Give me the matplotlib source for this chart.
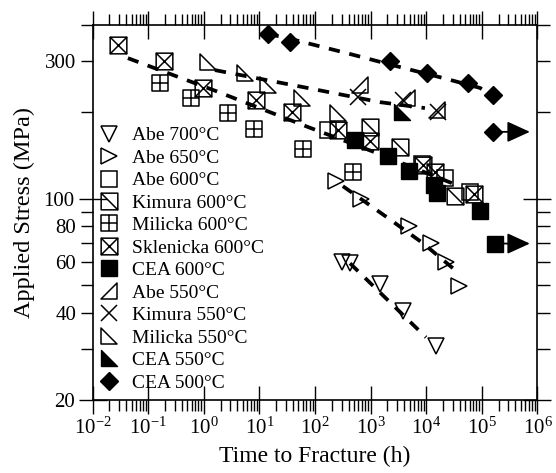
import numpy as np
import matplotlib
matplotlib.use('Agg')
import matplotlib.pyplot as plt
from matplotlib.path import Path
from matplotlib.ticker import FixedLocator, NullFormatter, FuncFormatter, LogLocator

plt.rcParams['font.family'] = ['Liberation Serif', 'DejaVu Serif']
plt.rcParams['mathtext.fontset'] = 'stix'

# --- data: time to fracture (h) and applied stress (MPa) ---
abe700_t = [305, 425, 1470, 3810, 14900]
abe700_s = [60.1, 59.6, 50.4, 40.6, 30.7]

abe650_t = [238, 670, 4890, 12200, 22600, 38700]
abe650_s = [114.8, 99.4, 80.1, 69.9, 60.1, 49.8]

abe600_t = [171, 8260, 21700, 61100]
abe600_s = [173, 132, 117.6, 105.2]

kimura600_t = [971, 3370, 32800]
kimura600_s = [177, 150.7, 101.9]

milicka600_t = [0.162, 0.586, 2.71, 7.96, 60.5, 481]
milicka600_s = [252, 224, 197.5, 175, 148, 124]

sklenicka600_t = [0.0285, 0.191, 0.96, 8.65, 38.5, 258, 971, 8710, 14350, 72100]
sklenicka600_s = [341, 300, 242, 220, 199, 173, 158, 130.6, 123.5, 104]

cea600_t = [522, 2070, 4950, 13700, 15500, 92000, 172000]
cea600_s = [159.5, 141, 124.7, 111.2, 104.3, 90.2, 69.8]

abe550_t = [643, 4500, 15560]
abe550_s = [248, 223, 203]

kimura550_t = [592, 3810, 16200]
kimura550_s = [225, 220, 199.5]

milicka550_t = [1.19, 5.48, 14.2, 58, 258]
milicka550_s = [298, 273, 248, 223, 198]

cea550_t = [3610]
cea550_s = [200]

cea500_t = [14.2, 36.1, 2220, 10200, 56900, 160000, 160000]
cea500_s = [372, 350, 301, 272, 252, 229, 170.4]

# run-out (unbroken) specimens, arrows to the right
runout_t = [160000, 172000]
runout_s = [170.4, 69.8]
runout_end = 7.3e5

# dashed trend curves
fit500_t = [14, 25.7, 360, 3830, 20000, 92500, 140000]
fit500_s = [372, 364, 320, 284, 262, 242, 230]
fit550_t = [1.58, 58.3, 1470, 9460]
fit550_s = [279, 244, 216, 206]
fit600_t = [0.043, 1.65, 81, 1055, 32800]
fit600_s = [307, 236, 176, 146, 112]
fit650_t = [316, 1960, 8710, 37200]
fit650_s = [110.4, 86.1, 70, 55.4]
fit700_t = [425, 9890]
fit700_s = [59.6, 33]

# --- custom marker shapes ---
M, L, C = Path.MOVETO, Path.LINETO, Path.CLOSEPOLY


def box_with(segments):
    verts = [(-1, -1), (1, -1), (1, 1), (-1, 1), (-1, -1)]
    codes = [M, L, L, L, C]
    for a, b in segments:
        verts += [a, b]
        codes += [M, L]
    return Path(verts, codes)


box_slash = box_with([((-1, 1), (1, -1))])
box_plus = box_with([((0, -1), (0, 1)), ((-1, 0), (1, 0))])
box_cross = box_with([((-1, 1), (1, -1)), ((-1, -1), (1, 1))])
tri_bl = Path([(-1, 1), (-1, -1), (1, -1), (-1, 1)], [M, L, L, C])
tri_br = Path([(1, 1), (1, -1), (-1, -1), (1, 1)], [M, L, L, C])

fig = plt.figure(figsize=(5.56, 4.73), dpi=100)
ax = fig.add_axes([0.1667, 0.1543, 0.80, 0.7928])

dash = dict(color='k', lw=2.7, linestyle=(0, (3, 2.6)), zorder=3)
for ft, fs in [(fit500_t, fit500_s), (fit550_t, fit550_s), (fit600_t, fit600_s),
               (fit650_t, fit650_s), (fit700_t, fit700_s)]:
    ax.plot(ft, fs, **dash)

open_kw = dict(linestyle='none', mfc='none', mec='k', mew=1.1, zorder=4)
ax.plot(abe700_t, abe700_s, marker='v', ms=12, label='Abe 700°C', **open_kw)
ax.plot(abe650_t, abe650_s, marker='>', ms=12, label='Abe 650°C', **open_kw)
ax.plot(abe600_t, abe600_s, marker='s', ms=12, label='Abe 600°C', **open_kw)
ax.plot(kimura600_t, kimura600_s, marker=box_slash, ms=12, label='Kimura 600°C', **open_kw)
ax.plot(milicka600_t, milicka600_s, marker=box_plus, ms=12, label='Milicka 600°C', **open_kw)
ax.plot(sklenicka600_t, sklenicka600_s, marker=box_cross, ms=12, label='Sklenicka 600°C', **open_kw)
ax.plot(cea600_t, cea600_s, linestyle='none', marker='s', ms=12, mfc='k', mec='k',
        label='CEA 600°C', zorder=4)
ax.plot(abe550_t, abe550_s, marker=tri_br, ms=12, label='Abe 550°C', **open_kw)
ax.plot(kimura550_t, kimura550_s, marker='x', ms=12, label='Kimura 550°C', **open_kw)
ax.plot(milicka550_t, milicka550_s, marker=tri_bl, ms=12, label='Milicka 550°C', **open_kw)
ax.plot(cea550_t, cea550_s, linestyle='none', marker=tri_bl, ms=12, mfc='k', mec='k',
        label='CEA 550°C', zorder=4)
ax.plot(cea500_t, cea500_s, linestyle='none', marker='D', ms=9.5, mfc='k', mec='k',
        label='CEA 500°C', zorder=4)

for rt, rs in zip(runout_t, runout_s):
    ax.annotate('', xy=(runout_end, rs), xytext=(rt, rs),
                arrowprops=dict(arrowstyle='-|>,head_length=0.7,head_width=0.32',
                                color='k', lw=1.3, mutation_scale=20,
                                shrinkA=0, shrinkB=0), zorder=3)

ax.set_xscale('log')
ax.set_yscale('log')
ax.set_xlim(1e-2, 1e6)
ax.set_ylim(20, 400)

ax.xaxis.set_major_locator(LogLocator(base=10, numticks=20))
ax.xaxis.set_minor_locator(LogLocator(base=10, subs=np.arange(2, 10), numticks=20))
ax.xaxis.set_minor_formatter(NullFormatter())

ax.yaxis.set_major_locator(FixedLocator([20, 100]))
ax.yaxis.set_minor_locator(FixedLocator([30, 40, 50, 60, 70, 80, 90, 200, 300, 400]))
ax.yaxis.set_major_formatter(FuncFormatter(lambda v, p: '%d' % v))
ax.yaxis.set_minor_formatter(
    FuncFormatter(lambda v, p: '%d' % v if int(round(v)) in (40, 60, 80, 300) else ''))

ax.tick_params(axis='x', which='major', direction='inout', length=20, width=1,
               top=True, bottom=True, labelsize=15, pad=3)
ax.tick_params(axis='x', which='minor', direction='out', length=8, width=1,
               top=True, bottom=True)
ax.tick_params(axis='y', which='major', direction='inout', length=20, width=1,
               left=True, right=True, labelsize=15, pad=3)
ax.tick_params(axis='y', which='minor', direction='out', length=9, width=1,
               left=True, right=True, labelsize=15, pad=3)
for sp in ax.spines.values():
    sp.set_linewidth(1.2)

ax.set_xlabel('Time to Fracture (h)', fontsize=17, labelpad=5)
ax.set_ylabel('Applied Stress (MPa)', fontsize=17.5, labelpad=6)

ax.legend(loc='upper left', bbox_to_anchor=(-0.016, 0.765), frameon=False,
          fontsize=14, handlelength=1.0, handletextpad=0.7, labelspacing=0.25,
          borderaxespad=0.3, numpoints=1)

fig.savefig('out.png', dpi=100)
